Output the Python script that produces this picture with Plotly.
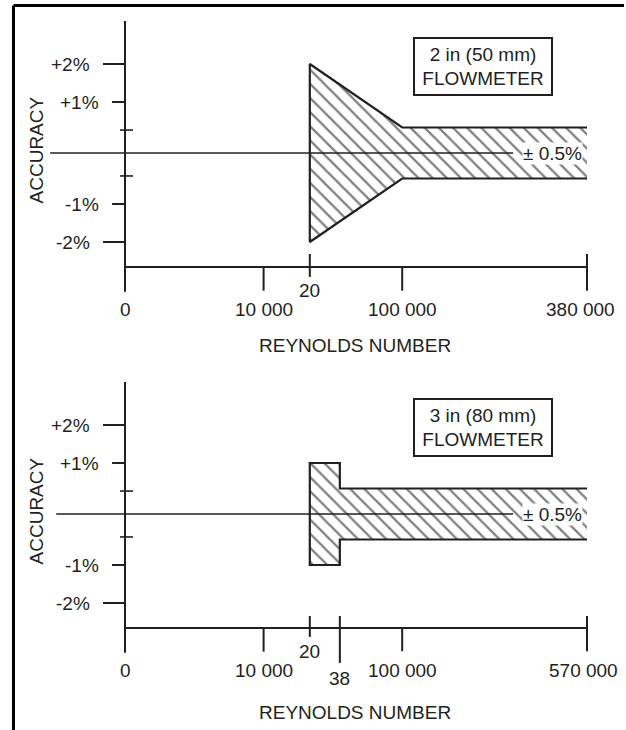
import numpy as np
import plotly.graph_objects as go

W, H = 626, 730
INK = "#231f20"
FONT = "Liberation Sans, Arial, Helvetica, sans-serif"
FS = 19

# ---------------- data ----------------
acc_ticks = [2, 1, -1, -2]
acc_labels = ["+2%", "+1%", "-1%", "-2%"]
acc_minor = [0.45, -0.45]
band_label = "± 0.5%"
x_title = "REYNOLDS NUMBER"
y_title = "ACCURACY"

# panel 1 : 2 in (50 mm)
re_ticks_1 = [0, 10000, 20000, 100000, 380000]
re_labels_1 = ["0", "10 000", "20", "100 000", "380 000"]
re_band_1 = [20000, 100000, 380000]
acc_upper_1 = [2.0, 0.5, 0.5]
acc_lower_1 = [-2.0, -0.5, -0.5]
name_1 = "2 in (50 mm)<br>FLOWMETER"

# panel 2 : 3 in (80 mm)
re_ticks_2 = [0, 10000, 20000, 38000, 100000, 570000]
re_labels_2 = ["0", "10 000", "20", "38", "100 000", "570 000"]
re_band_2 = [20000, 38000, 38000, 570000]
acc_upper_2 = [1.0, 1.0, 0.5, 0.5]
acc_lower_2 = [-1.0, -1.0, -0.5, -0.5]
name_2 = "3 in (80 mm)<br>FLOWMETER"

# ---------------- schematic scales (layout) ----------------
x_pos_1 = [0, 3, 4, 6, 10]
x_pos_2 = [0, 3, 4, 4.65, 6, 10]
acc_scale_v = [-2, -1, 0, 1, 2]
acc_scale_p = [-1.745, -1, 0, 1, 1.745]

PX_X = 46.2   # px per x unit
PX_Y = 51.0   # px per y unit
X0_PX = 125

def ypos(a):
    return np.interp(a, acc_scale_v, acc_scale_p)

fig = go.Figure()
shapes = []
annos = []

def panel(k, re_ticks, re_labels, x_pos, re_band, up, lo, name, zero_px,
          dom, tick_spec, label_rows, label_shift, title_y, zero_left):
    xr = "x" if k == 1 else "x2"
    yr = "y" if k == 1 else "y2"
    fx = lambda v: np.interp(v, re_ticks, x_pos)
    top_px = (1 - dom[1]) * H
    bot_px = (1 - dom[0]) * H
    yrange = [(zero_px - bot_px) / PX_Y, (zero_px - top_px) / PX_Y]
    xrange = [-X0_PX / PX_X, (W - X0_PX) / PX_X]
    ax = dict(visible=False, range=xrange, domain=[0, 1], fixedrange=True,
              showgrid=False, zeroline=False)
    ay = dict(visible=False, range=yrange, domain=dom, fixedrange=True,
              showgrid=False, zeroline=False)
    if k == 1:
        fig.update_layout(xaxis=dict(ax, anchor="y"), yaxis=dict(ay, anchor="x"))
    else:
        fig.update_layout(xaxis2=dict(ax, anchor="y2"), yaxis2=dict(ay, anchor="x2"))

    def line(x0, y0, x1, y1, w=2):
        shapes.append(dict(type="line", xref=xr, yref=yr, x0=x0, y0=y0, x1=x1, y1=y1,
                           line=dict(color=INK, width=w), layer="above"))

    # y axis, x axis
    line(0, 2.59, 0, -2.72)
    xa = -2.235
    line(0, xa, 10, xa)
    # zero line
    line(zero_left, 0, 8.4, 0, 1.4)
    # y ticks
    for a, lab in zip(acc_ticks, acc_labels):
        ln = -0.476 if abs(a) == 2 else -0.28
        line(ln, ypos(a), 0, ypos(a))
        annos.append(dict(xref=xr, yref=yr, x=ln - 0.24, y=ypos(a), text=lab,
                          xanchor="right", yanchor="middle", showarrow=False,
                          font=dict(size=FS, color=INK, family=FONT)))
    for a in acc_minor:
        line(-0.108, ypos(a), 0.173, ypos(a), 1.6)
    # x ticks
    for v, lab, (t0, t1), row, sh in zip(re_ticks, re_labels, tick_spec, label_rows, label_shift):
        if t0 is not None:
            line(fx(v), t0, fx(v), t1)
        ly = {0: -3.06, 1: -2.70, 2: -3.22}[row]
        annos.append(dict(xref=xr, yref=yr, x=fx(v), y=ly, text=lab, xshift=sh,
                          xanchor="center", yanchor="middle", showarrow=False,
                          font=dict(size=FS, color=INK, family=FONT)))
    # axis titles
    annos.append(dict(xref=xr, yref=yr, x=(355 - X0_PX) / PX_X, y=title_y, text=x_title,
                      showarrow=False, xanchor="center", yanchor="middle",
                      font=dict(size=FS, color=INK, family=FONT)))
    annos.append(dict(xref=xr, yref=yr, x=(36 - X0_PX) / PX_X, y=0.05, text=y_title,
                      textangle=-90, showarrow=False, xanchor="center", yanchor="middle",
                      font=dict(size=FS, color=INK, family=FONT)))
    # hatched accuracy band
    xs = [fx(v) for v in re_band[::-1]] + [fx(v) for v in re_band]
    ys = [ypos(a) for a in up[::-1]] + [ypos(a) for a in lo]
    fig.add_trace(go.Scatter(
        x=xs, y=ys, xaxis=xr, yaxis=yr, mode="lines", fill="toself",
        fillcolor="white",
        fillpattern=dict(shape="\\", fgcolor="black", bgcolor="white", size=10, solidity=0.22),
        line=dict(color=INK, width=2.2), hoverinfo="skip", showlegend=False))
    # band label
    annos.append(dict(xref=xr, yref=yr, x=(552 - X0_PX) / PX_X, y=0, text=band_label,
                      showarrow=False, xanchor="center", yanchor="middle",
                      bgcolor="white", borderpad=0,
                      font=dict(size=FS, color=INK, family=FONT)))
    # meter name box
    annos.append(dict(xref=xr, yref=yr, x=7.75, y=1.70, text=name,
                      showarrow=False, xanchor="center", yanchor="middle",
                      bgcolor="white", bordercolor=INK, borderwidth=2, borderpad=1,
                      width=134, height=53,
                      font=dict(size=FS, color=INK, family=FONT)))

panel(1, re_ticks_1, re_labels_1, x_pos_1, re_band_1, acc_upper_1, acc_lower_1, name_1,
      153, [0.5, 1.0],
      [(None, None), (-2.235, -2.70), (-1.98, -2.43), (-2.235, -2.70), (-1.98, -2.70)],
      [0, 0, 1, 0, 0], [0, 0, 0, 0, -7], -3.765, -1.62)
panel(2, re_ticks_2, re_labels_2, x_pos_2, re_band_2, acc_upper_2, acc_lower_2, name_2,
      514, [0.0, 0.5],
      [(None, None), (-2.235, -2.70), (-2.0, -2.41), (-2.0, -2.92), (-2.235, -2.69), (-2.0, -2.69)],
      [0, 0, 1, 2, 0, 0], [0, 0, 0, 0, 0, -4], -3.90, -1.49)

# page frame (top + left rule)
shapes.append(dict(type="line", xref="paper", yref="paper", x0=13.5 / W, x1=624 / W,
                   y0=1 - 5.5 / H, y1=1 - 5.5 / H, line=dict(color="black", width=3)))
shapes.append(dict(type="line", xref="paper", yref="paper", x0=13.5 / W, x1=13.5 / W,
                   y0=1 - 5.5 / H, y1=0, line=dict(color="black", width=3)))

fig.update_layout(width=W, height=H, margin=dict(l=0, r=0, t=0, b=0),
                  paper_bgcolor="white", plot_bgcolor="white", showlegend=False,
                  shapes=shapes, annotations=annos,
                  font=dict(family=FONT, size=FS, color=INK))
fig.write_html("out.html", config=dict(displayModeBar=False),
               post_script="document.body.style.margin='0';document.body.style.overflow='hidden';")
